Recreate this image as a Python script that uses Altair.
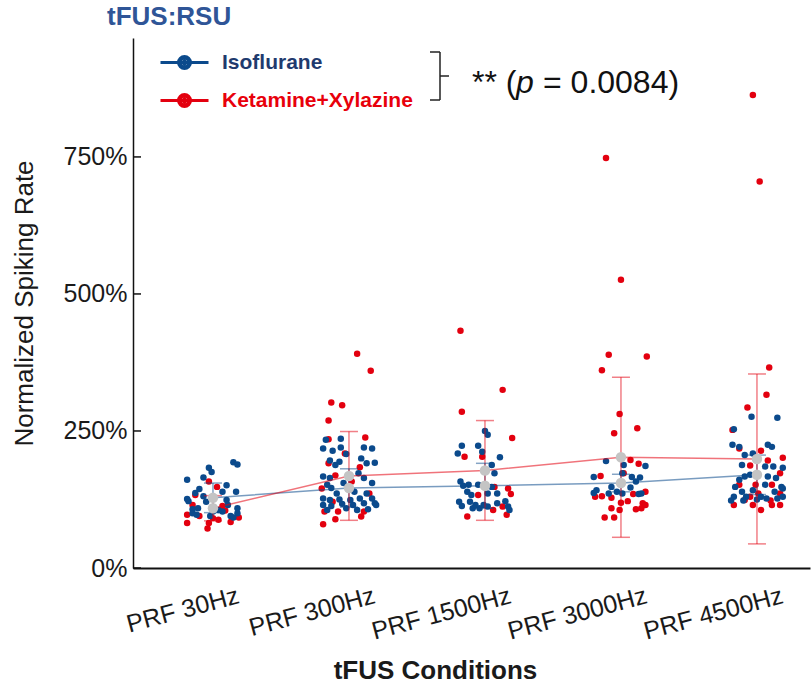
import json
import altair as alt
import pandas as pd

conditions = ["PRF 30Hz", "PRF 300Hz", "PRF 1500Hz", "PRF 3000Hz", "PRF 4500Hz"]
groups = ["Isoflurane", "Ketamine+Xylazine"]

# Normalized spiking rate (%) of each unit, per condition
iso_values = [
    [161, 165, 183, 175, 193, 189, 144, 137, 126, 122, 151, 139, 139, 124, 115, 121, 107, 109, 100, 97, 95, 106, 109, 100, 95, 92, 103, 103, 131],
    [236, 234, 218, 220, 214, 220, 218, 208, 196, 194, 200, 192, 188, 191, 173, 167, 164, 164, 152, 155, 146, 155, 139, 136, 136, 127, 124, 125, 124, 127, 127, 115, 113, 117, 115, 118, 118, 106, 109, 106, 107, 115],
    [250, 243, 223, 223, 209, 212, 202, 188, 173, 158, 150, 152, 152, 148, 136, 139, 133, 136, 121, 121, 115, 115, 118, 122, 112, 113, 109, 112, 106, 109],
    [195, 188, 186, 166, 166, 165, 173, 158, 148, 147, 142, 137, 136, 139, 136, 135, 136],
    [276, 274, 253, 225, 221, 225, 221, 206, 209, 188, 185, 185, 183, 167, 170, 167, 164, 161, 148, 152, 148, 139, 142, 139, 130, 130, 130, 130, 123, 125, 127, 127, 123, 145],
]
# horizontal scatter of each unit around its condition (fraction of category spacing)
iso_jitter = [
    [-0.19, -0.07, -0.03, -0.01, 0.15, 0.18, -0.10, -0.13, -0.19, -0.18, 0.10, 0.07, 0.17, 0.10, 0.11, -0.05, -0.15, -0.11, -0.15, -0.12, -0.02, 0.04, 0.18, 0.18, 0.13, 0.15, 0.00, 0.07, -0.07],
    [-0.06, -0.17, -0.19, -0.06, -0.12, 0.11, 0.17, -0.02, -0.14, -0.07, 0.09, 0.19, -0.10, 0.13, 0.07, -0.19, -0.14, 0.11, -0.16, -0.04, -0.13, 0.17, 0.04, -0.09, 0.13, -0.19, -0.14, -0.07, 0.01, 0.08, 0.17, -0.19, -0.13, -0.05, 0.03, 0.11, 0.19, -0.16, -0.02, 0.06, 0.14, 0.20],
    [0.00, 0.02, -0.17, -0.05, -0.20, -0.02, 0.11, 0.05, 0.07, -0.18, -0.16, -0.12, -0.05, 0.05, 0.09, -0.13, -0.10, 0.02, -0.19, -0.11, -0.07, -0.01, 0.09, 0.15, 0.17, -0.17, -0.04, 0.02, 0.18, -0.09],
    [-0.11, 0.02, 0.18, -0.20, 0.08, 0.14, 0.01, 0.11, -0.07, 0.07, -0.18, -0.20, -0.09, -0.03, 0.01, 0.13, 0.15],
    [-0.04, 0.15, -0.17, -0.18, -0.13, 0.08, 0.11, -0.09, -0.03, -0.11, 0.06, 0.12, 0.19, -0.09, -0.05, 0.08, 0.14, -0.13, -0.16, 0.06, 0.18, -0.11, -0.03, 0.13, -0.17, -0.08, 0.03, 0.19, -0.10, 0.00, 0.07, 0.15, -0.19, 0.19],
]
kx_values = [
    [158, 133, 148, 97, 82, 82, 72, 84, 92, 105, 95, 88, 91, 115, 113],
    [391, 360, 302, 297, 269, 235, 238, 209, 191, 184, 169, 145, 121, 103, 103, 103, 94, 89, 80, 158, 136],
    [433, 325, 285, 237, 203, 203, 148, 145, 135, 133, 112, 106, 94, 97],
    [748, 526, 389, 386, 361, 281, 246, 255, 197, 190, 168, 173, 130, 131, 128, 135, 139, 122, 119, 118, 109, 106, 107, 109, 92, 92, 115],
    [863, 705, 366, 316, 293, 252, 218, 214, 201, 196, 187, 152, 173, 152, 152, 115, 124, 115, 136, 106, 123, 115, 115, 136, 130],
]
kx_jitter = [
    [-0.03, -0.13, 0.03, -0.19, -0.19, -0.03, -0.04, 0.13, 0.19, 0.09, -0.10, 0.04, 0.00, -0.15, 0.07],
    [0.06, 0.16, -0.13, -0.05, -0.15, -0.15, 0.12, -0.03, -0.15, 0.08, -0.10, -0.20, -0.12, -0.18, -0.08, 0.11, 0.09, -0.10, -0.19, 0.02, 0.15],
    [-0.18, 0.13, -0.17, 0.20, -0.15, -0.02, 0.07, 0.17, 0.19, -0.05, 0.13, 0.06, -0.13, 0.16],
    [-0.11, 0.00, -0.09, 0.19, -0.14, -0.01, -0.05, 0.12, 0.07, 0.13, -0.15, 0.02, -0.19, -0.14, -0.07, 0.09, 0.18, 0.05, 0.00, 0.16, -0.07, -0.01, 0.11, 0.15, -0.12, -0.05, 0.18],
    [-0.03, 0.02, 0.09, 0.07, -0.07, -0.18, -0.13, 0.03, 0.19, 0.08, -0.05, -0.01, 0.17, -0.13, 0.11, -0.17, -0.09, -0.03, 0.01, 0.03, 0.10, 0.11, 0.17, 0.17, -0.05],
]
iso_mean = [128, 146, 150, 155, 170]
iso_sd = [27, 35, 41, 16, 36]
kx_mean = [109, 168, 178, 202, 199]
kx_sd = [23, 81, 91, 146, 155]
y_ticks = [0, 250, 500, 750]

sig_stars = "** ("
sig_p = "p"
sig_rest = "= 0.0084)"

FONT = "Liberation Sans"
NAVY = "#0b4a8c"
RED = "#e3000f"

rows = []
for g, vals, jits in [(groups[1], kx_values, kx_jitter), (groups[0], iso_values, iso_jitter)]:
    for i, (vs, js) in enumerate(zip(vals, jits)):
        for v, j in zip(vs, js):
            rows.append({"group": g, "x": i + 1 + j, "value": v})
points = pd.DataFrame(rows)

srows = []
for g, means, sds in [(groups[0], iso_mean, iso_sd), (groups[1], kx_mean, kx_sd)]:
    for i, (m, s) in enumerate(zip(means, sds)):
        srows.append({"group": g, "x": i + 1, "value": m, "lo": m - s, "hi": m + s})
summary = pd.DataFrame(srows)
ticks_df = pd.DataFrame({"value": y_ticks})
one = pd.DataFrame({"k": [0]})

xscale = alt.Scale(domain=[0.412, 5.39], nice=False, zero=False)
yscale = alt.Scale(domain=[0, 967], nice=False, zero=True)
cscale = alt.Scale(domain=groups, range=[NAVY, RED])

label_expr = json.dumps(conditions).replace('"', "'") + "[datum.value - 1]"
x_axis = alt.Axis(values=[1, 2, 3, 4, 5], labelExpr=label_expr, ticks=False, grid=False,
                  labelAngle=345, labelAlign="right", labelBaseline="top", labelOffset=22,
                  labelPadding=15, labelFontSize=25, labelOverlap=False, labelFlush=False,
                  title="tFUS Conditions", titleFontSize=26, titleFontWeight="bold",
                  titleX=302, titleY=110, titleAlign="center", titleBaseline="alphabetic",
                  domainColor="#111111", domainWidth=2)
y_axis = alt.Axis(values=y_ticks, labelExpr="datum.value + '%'", ticks=False, tickSize=0,
                  labelPadding=6, grid=False, labelFontSize=25,
                  title="Normalized Spiking Rate", titleFontSize=26, titleFontWeight="normal",
                  titleX=-109, titleY=265, titleAngle=270, titleAlign="center", titleBaseline="middle",
                  domainColor="#111111", domainWidth=1.5)

def X(field):
    return alt.X(field, scale=xscale, axis=x_axis, title="tFUS Conditions")

def Y(field):
    return alt.Y(field, scale=yscale, axis=y_axis, title="Normalized Spiking Rate")

legend_path = ("M-24,0L24,0 M1.5,0A1.5,1.5 0 1,1 -1.5,0A1.5,1.5 0 1,1 1.5,0 "
               "M4.5,0A4.5,4.5 0 1,1 -4.5,0A4.5,4.5 0 1,1 4.5,0 "
               "M6,0A6,6 0 1,1 -6,0A6,6 0 1,1 6,0")
legend = alt.Legend(orient="none", legendX=41, legendY=14, title=None, symbolType=legend_path,
                    symbolSize=4, symbolStrokeWidth=3, labelFontSize=21, labelFontWeight="bold",
                    labelFont=FONT, labelOffset=27, labelLimit=400, rowPadding=13, padding=0,
                    labelColor=alt.ExprRef(expr="datum.label === 'Isoflurane' ? '#1f3a6e' : '#e8000b'"))

pts = alt.Chart(points).mark_circle(size=42, opacity=1).encode(
    x=X("x:Q"), y=Y("value:Q"),
    color=alt.Color("group:N", scale=cscale, legend=None))

err = alt.Chart(summary).mark_rule(strokeWidth=1.5, strokeOpacity=0.5).encode(
    x=X("x:Q"), y=Y("lo:Q"), y2="hi:Q",
    color=alt.Color("group:N", scale=cscale, legend=None))
cap_lo = alt.Chart(summary).mark_tick(orient="horizontal", size=18, thickness=1.5, opacity=0.5).encode(
    x=X("x:Q"), y=Y("lo:Q"), color=alt.Color("group:N", scale=cscale, legend=None))
cap_hi = alt.Chart(summary).mark_tick(orient="horizontal", size=18, thickness=1.5, opacity=0.5).encode(
    x=X("x:Q"), y=Y("hi:Q"), color=alt.Color("group:N", scale=cscale, legend=None))

lines = alt.Chart(summary).mark_line(strokeWidth=1.5, strokeOpacity=0.55).encode(
    x=X("x:Q"), y=Y("value:Q"),
    color=alt.Color("group:N", scale=cscale, legend=legend))

means = alt.Chart(summary).mark_circle(size=110, color="#c4c4c4", opacity=1).encode(
    x=X("x:Q"), y=Y("value:Q"))

yticks = alt.Chart(ticks_df).mark_rule(color="#111111", strokeWidth=1.5).encode(
    y=Y("value:Q"), x=alt.value(0), x2=alt.value(8))

bk = dict(color="#222222", strokeWidth=1.5)
br_v = alt.Chart(one).mark_rule(**bk).encode(x=alt.value(307), y=alt.value(14), y2=alt.value(62))
br_t = alt.Chart(one).mark_rule(**bk).encode(x=alt.value(297), x2=alt.value(307), y=alt.value(14))
br_b = alt.Chart(one).mark_rule(**bk).encode(x=alt.value(297), x2=alt.value(307), y=alt.value(62))
br_m = alt.Chart(one).mark_rule(**bk).encode(x=alt.value(307), x2=alt.value(316), y=alt.value(38))

tx = dict(align="left", baseline="middle", fontSize=32, font=FONT, color="#111111")
t1 = alt.Chart(one).mark_text(**tx).encode(x=alt.value(339), y=alt.value(45), text=alt.value(sig_stars))
t2 = alt.Chart(one).mark_text(fontStyle="italic", **tx).encode(x=alt.value(383), y=alt.value(45), text=alt.value(sig_p))
t3 = alt.Chart(one).mark_text(**tx).encode(x=alt.value(410), y=alt.value(45), text=alt.value(sig_rest))

chart = alt.layer(
    pts, err, cap_lo, cap_hi, lines, means, yticks, br_v, br_t, br_b, br_m, t1, t2, t3
).resolve_scale(color="shared").resolve_legend(color="independent").properties(
    width=677, height=530,
    padding={"left": 133, "top": 38, "right": 2, "bottom": 119},
    autosize=alt.AutoSizeParams(type="none"),
    title=alt.TitleParams(text="tFUS:RSU", anchor="start", frame="group", dx=-26, offset=8,
                          fontSize=26, fontWeight="bold", color="#2f5597", font=FONT),
).configure_view(stroke=None).configure_axis(
    labelFont=FONT, titleFont=FONT, labelColor="#1a1a1a", titleColor="#1a1a1a"
)

chart.save("out.html", embed_options={"renderer": "svg", "actions": False})
